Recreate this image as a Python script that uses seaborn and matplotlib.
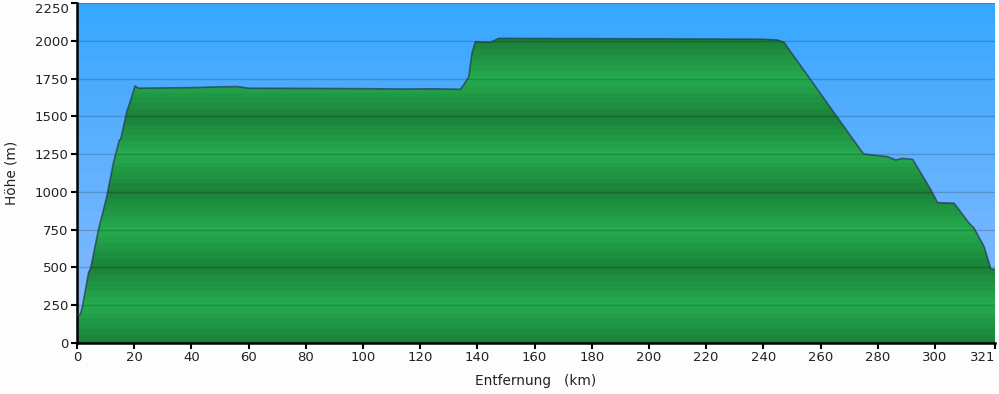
import numpy as np
import pandas as pd
import matplotlib
matplotlib.use("Agg")
import matplotlib.pyplot as plt
import seaborn as sns
from matplotlib.colors import to_rgb

distance_km = [0, 1.2, 2.0, 4.0, 4.8, 7.5, 10.4, 12.7, 14.8, 15.3, 17.4, 18.6, 20.3, 21.5,
               30, 40, 50, 56, 60, 80, 100, 113, 125, 134, 135.2, 137, 138.1, 139.3,
               144.6, 147.5, 160, 180, 200, 220, 240, 244.9, 247.2, 275, 283.4, 286.3,
               288.6, 292.2, 298.6, 300.9, 306.7, 312, 313.7, 317.2, 319.6, 321]
elevation_m = [185, 190, 250, 463, 498, 748, 968, 1189, 1343, 1348, 1531, 1597, 1701, 1686,
               1688, 1690, 1695, 1697, 1686, 1685, 1683, 1681, 1682, 1679, 1707, 1762, 1917, 1994,
               1990, 2016, 2015, 2014, 2013, 2012, 2010, 2005, 1990, 1251, 1233, 1211,
               1222, 1215, 1013, 929, 925, 792, 759, 637, 488, 488]

x_ticks = [0, 20, 40, 60, 80, 100, 120, 140, 160, 180, 200, 220, 240, 260, 280, 300, 321]
y_ticks = [0, 250, 500, 750, 1000, 1250, 1500, 1750, 2000, 2250]

df = pd.DataFrame({"Entfernung": distance_km, "Höhe": elevation_m})

sns.set_theme(style="white")
plt.rcParams['font.family'] = ['DejaVu Sans']

fig = plt.figure(figsize=(9.99, 3.94), dpi=100, facecolor="#fdfdfd")
ax = fig.add_axes([77/999, 51/394, (995-77)/999, (343-3)/394])
xmax, ymax = 321, 2250

# sky gradient (stepped)
n = 18
top = np.array(to_rgb("#38a8fe"))
bot = np.array(to_rgb("#8cbcff"))
t = np.linspace(0, 1, n)[:, None]
sky = (bot * (1 - t) + top * t)[:, None, :]
ax.imshow(sky, extent=[0, xmax, 0, ymax], origin="lower", aspect="auto", zorder=0,
          interpolation="nearest")

# green banded fill
ys = np.linspace(0, ymax, 360)
phase = (ys % 500) / 500.0
w = 1 - np.abs(1 - 2 * phase)  # 0 at multiples of 500, 1 at 250
w = np.round(w * 7) / 7
dark = np.array(to_rgb("#1b8239"))
light = np.array(to_rgb("#25ab4e"))
green = (dark * (1 - w[:, None]) + light * w[:, None])[:, None, :]
poly = ax.fill_between(df["Entfernung"], 0, df["Höhe"], color="none", lw=0)
img = ax.imshow(green, extent=[0, xmax, 0, ymax], origin="lower", aspect="auto", zorder=1,
                interpolation="nearest")
img.set_clip_path(poly.get_paths()[0], transform=ax.transData)

# grid lines
for yv in y_ticks[1:]:
    ax.axhline(yv, color="#000000", alpha=0.18, lw=1, zorder=2)

sns.lineplot(data=df, x="Entfernung", y="Höhe", ax=ax, color="#26384a", alpha=0.7,
             lw=1.2, zorder=3)

ax.set_xlim(0, xmax)
ax.set_ylim(0, ymax)
ax.set_xticks(x_ticks)
ax.set_yticks(y_ticks)
ax.tick_params(axis="both", direction="out", length=4, width=1.5, color="black",
               labelsize=9.5, labelcolor="#222222", pad=2, bottom=True, left=True)
ax.get_xticklabels()[-1].set_horizontalalignment("right")
ax.get_xticklabels()[-1].set_x(x_ticks[-1])
ax.get_yticklabels()[-1].set_verticalalignment("top")
for s in ["top", "right"]:
    ax.spines[s].set_visible(False)
for s in ["left", "bottom"]:
    ax.spines[s].set_color("black")
    ax.spines[s].set_linewidth(1.8)
ax.set_xlabel("Entfernung   (km)", fontsize=9.8, color="#222222", labelpad=7)
ax.set_ylabel("Höhe (m)", fontsize=9.8, color="#222222", labelpad=12)

fig.savefig("out.png", dpi=100, facecolor=fig.get_facecolor())
